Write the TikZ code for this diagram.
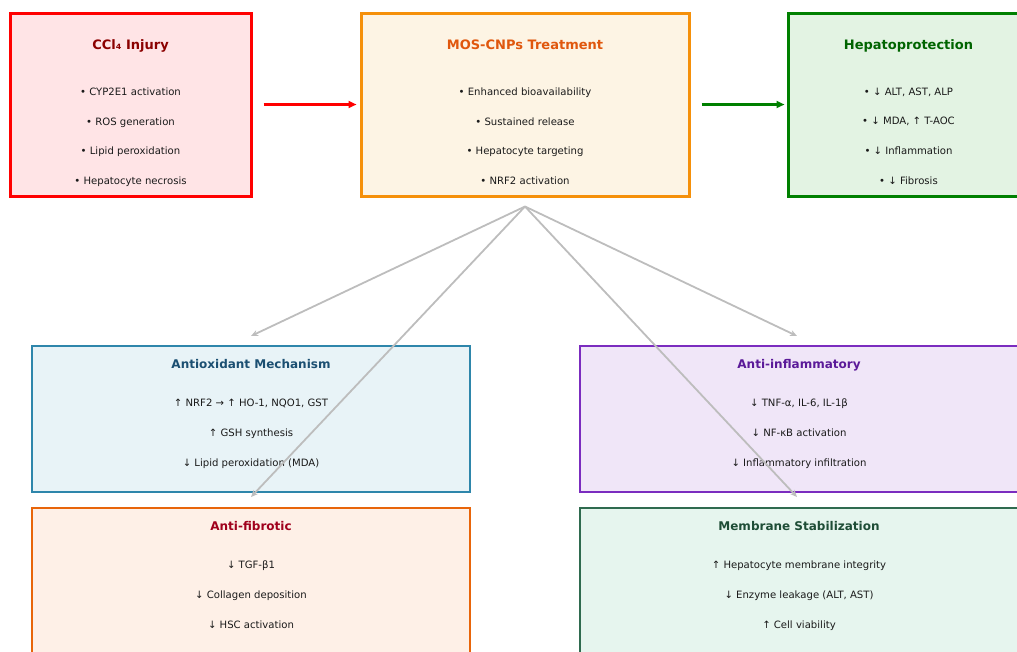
\documentclass[tikz,border=0pt]{standalone}
\usepackage{fontspec}
\setmainfont{DejaVu Sans}
\usepackage{tikz}
\usetikzlibrary{arrows.meta,positioning}
\definecolor{ink}{HTML}{1A1A1A}
\definecolor{fan}{HTML}{BDBDBD}
\definecolor{injline}{HTML}{FF0000}
\definecolor{injfill}{HTML}{FFE4E6}
\definecolor{injhead}{HTML}{8B0000}
\definecolor{trtline}{HTML}{F5900A}
\definecolor{trtfill}{HTML}{FDF4E4}
\definecolor{trthead}{HTML}{E0570D}
\definecolor{hepline}{HTML}{008000}
\definecolor{hepfill}{HTML}{E3F3E3}
\definecolor{hephead}{HTML}{006400}
\definecolor{oxline}{HTML}{2E86AB}
\definecolor{oxfill}{HTML}{E8F3F7}
\definecolor{oxhead}{HTML}{1B4F72}
\definecolor{infline}{HTML}{7B2CBF}
\definecolor{inffill}{HTML}{F0E6F8}
\definecolor{infhead}{HTML}{5B1A99}
\definecolor{fibline}{HTML}{E8650A}
\definecolor{fibfill}{HTML}{FEF0E7}
\definecolor{fibhead}{HTML}{A0001C}
\definecolor{memline}{HTML}{2F6B4F}
\definecolor{memfill}{HTML}{E6F5EE}
\definecolor{memhead}{HTML}{1E4D36}

\begin{document}
\begin{tikzpicture}[
  x=1pt,y=-1pt,
  topbox/.style={draw,line width=3pt,minimum width=241pt,minimum height=183pt,inner sep=0pt},
  mechbox/.style={draw,line width=2pt,minimum width=438pt,minimum height=146pt,inner sep=0pt},
  toptitle/.style={anchor=base,inner sep=0pt,font=\fontsize{13}{15}\selectfont\bfseries},
  mechtitle/.style={anchor=base,inner sep=0pt,font=\fontsize{12}{14}\selectfont\bfseries},
  toplist/.style={anchor=north,inner sep=0pt,align=center,text=ink,font=\fontsize{10.1}{29.7}\selectfont},
  mechlist/.style={anchor=north,inner sep=0pt,align=center,text=ink,font=\fontsize{10.1}{30}\selectfont},
  flow/.style={-{Triangle[length=8pt,width=7pt]},line width=3pt},
  fanarrow/.style={-{Stealth[length=7pt,width=6pt]},draw=fan,line width=1.8pt},
]
\useasboundingbox (0,0) rectangle (1017,651);
\clip (0,0) rectangle (1017,651);

\node[topbox,draw=injline,fill=injfill] (injury) at (130.5,104.5) {};
\node[topbox,draw=trtline,fill=trtfill,minimum width=328pt] (treat) at (525,104.5) {};
\node[topbox,draw=hepline,fill=hepfill] (hep) at (908.5,104.5) {};

\node[toptitle,text=injhead] (injury-t) at ([yshift=-38pt]injury.north) {CCl₄ Injury};
\node[toplist] (injury-l) at ([yshift=-76pt]injury.north) {• CYP2E1 activation\\• ROS generation\\• Lipid peroxidation\\• Hepatocyte necrosis};
\node[toptitle,text=trthead] (treat-t) at ([yshift=-38pt]treat.north) {MOS-CNPs Treatment};
\node[toplist] (treat-l) at ([yshift=-76pt]treat.north) {• Enhanced bioavailability\\• Sustained release\\• Hepatocyte targeting\\• NRF2 activation};
\node[toptitle,text=hephead] (hep-t) at ([yshift=-38pt]hep.north) {Hepatoprotection};
\node[toplist] (hep-l) at ([yshift=-76pt]hep.north) {• ↓ ALT, AST, ALP\\• ↓ MDA, ↑ T-AOC\\• ↓ Inflammation\\• ↓ Fibrosis};

\node[mechbox,draw=oxline,fill=oxfill] (antiox) at (251,419) {};
\node[mechbox,draw=infline,fill=inffill] (antiinf) at (799,419) {};
\node[mechbox,draw=fibline,fill=fibfill] (antifib) at (251,581) {};
\node[mechbox,draw=memline,fill=memfill] (membrane) at (799,581) {};

\node[mechtitle,text=oxhead] (antiox-t) at ([yshift=-23.5pt]antiox.north) {Antioxidant Mechanism};
\node[mechlist] (antiox-l) at ([yshift=-53.5pt]antiox.north) {↑ NRF2 → ↑ HO-1, NQO1, GST\\↑ GSH synthesis\\↓ Lipid peroxidation (MDA)};
\node[mechtitle,text=infhead] (antiinf-t) at ([yshift=-23.5pt]antiinf.north) {Anti-inflammatory};
\node[mechlist] (antiinf-l) at ([yshift=-53.5pt]antiinf.north) {↓ TNF-α, IL-6, IL-1β\\↓ NF-κB activation\\↓ Inflammatory infiltration};
\node[mechtitle,text=fibhead] (antifib-t) at ([yshift=-23.5pt]antifib.north) {Anti-fibrotic};
\node[mechlist] (antifib-l) at ([yshift=-53.5pt]antifib.north) {↓ TGF-β1\\↓ Collagen deposition\\↓ HSC activation};
\node[mechtitle,text=memhead] (membrane-t) at ([yshift=-23.5pt]membrane.north) {Membrane Stabilization};
\node[mechlist] (membrane-l) at ([yshift=-53.5pt]membrane.north) {↑ Hepatocyte membrane integrity\\↓ Enzyme leakage (ALT, AST)\\↑ Cell viability};

\draw[flow,draw=injline,shorten <=11pt,shorten >=3pt] (injury) -- (treat);
\draw[flow,draw=hepline,shorten <=11pt,shorten >=2pt] (treat) -- (hep);

\draw[fanarrow] ([yshift=-9pt]treat.south) -- ([yshift=9pt]antiox.north);
\draw[fanarrow] ([yshift=-9pt]treat.south) -- ([yshift=10pt]antifib.north);
\draw[fanarrow] ([yshift=-9pt]treat.south) -- ([xshift=-2pt,yshift=10pt]membrane.north);
\draw[fanarrow] ([yshift=-9pt]treat.south) -- ([xshift=-2pt,yshift=9pt]antiinf.north);
\end{tikzpicture}
\end{document}
